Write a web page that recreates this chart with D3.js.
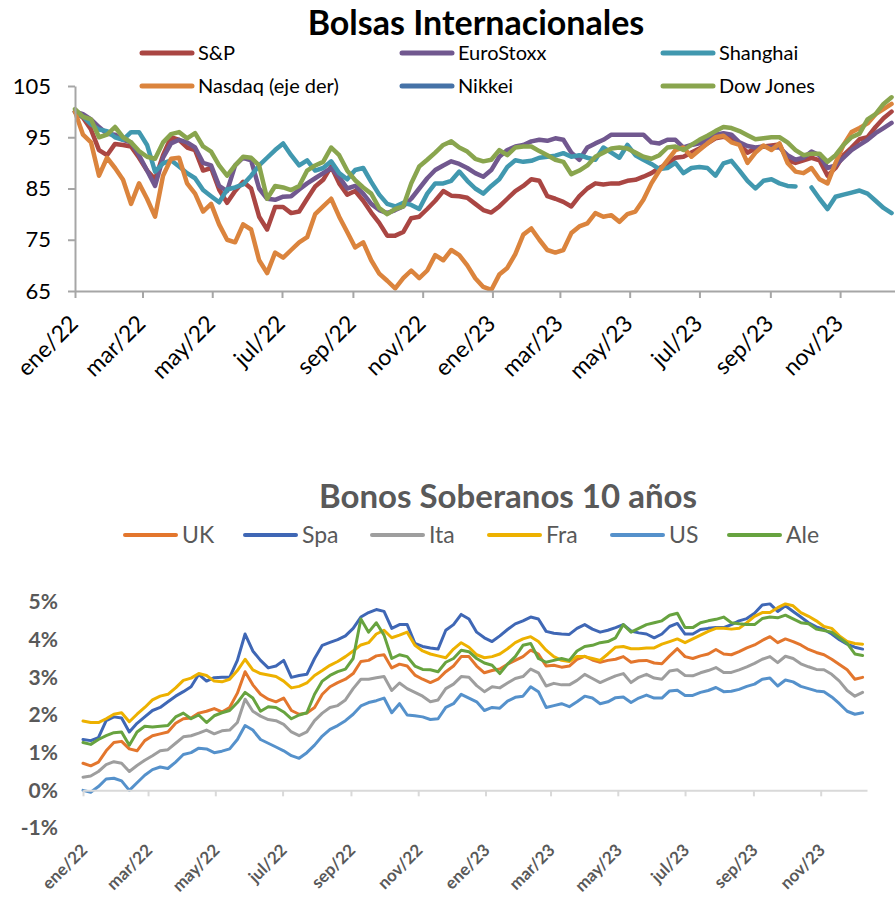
<!DOCTYPE html>
<html>
<head>
<meta charset="utf-8">
<script src="https://cdn.jsdelivr.net/npm/d3@7"></script>
<style>
  body { margin: 0; background: #fff; }
  svg { display: block; font-family: Lato, "Open Sans", sans-serif; }
</style>
</head>
<body>
<div id="chart"></div>
<script>
// Etiquetas de meses para el eje x
const meses = ['ene', 'feb', 'mar', 'abr', 'may', 'jun', 'jul', 'ago', 'sep', 'oct', 'nov', 'dic'];

// ---- Bolsas Internacionales (indice, datos semanales desde ene/22) ----
const bolsasSeries = ['S&P', 'EuroStoxx', 'Shanghai', 'Nasdaq (eje der)', 'Nikkei', 'Dow Jones'];
const bolsasColores = ['#AA4643', '#71588F', '#4198AF', '#DB843D', '#4572A7', '#89A54E'];
const bolsasTicks = [65, 75, 85, 95, 105];

const sp = [100, 98.8, 96.5, 92.5, 91.5, 93.7, 93.5, 93.2, 91, 88.5,
  86.8, 91.5, 95, 94.5, 93, 92.5, 88.5, 89, 84.8, 82.2,
  84.5, 86.3, 85, 79.5, 77, 81.4, 81.4, 80.2, 80.5, 83,
  85.4, 86.7, 89.3, 86, 83.8, 84.5, 82.6, 80.3, 78.3, 75.8,
  75.8, 76.5, 79.2, 79.5, 81, 82.6, 84.5, 83.6, 83.5, 83.2,
  82, 80.8, 80.3, 81.5, 83, 84.5, 85.5, 86.8, 86.5, 83.5,
  83, 82.4, 81.5, 83.5, 85, 86, 85.8, 86, 86, 86.5,
  86.7, 87.3, 88, 89, 89.8, 91, 91.2, 92, 92.8, 93.8,
  94.8, 95.1, 94.8, 93.6, 92, 92.8, 93.2, 93.4, 93.6, 90.5,
  90, 90.5, 91, 90.5, 87.5, 89, 91.5, 93, 94.6, 95,
  97, 98.7, 100];

const euroStoxx = [100, 99.5, 98.5, 97, 95.7, 95.5, 94.5, 94, 91.5, 88.5,
  85.5, 91, 93.8, 94.5, 94, 93, 90, 89.5, 85.5, 84.5,
  89.5, 91, 90.5, 85, 83, 82.8, 83.4, 83.5, 84.8, 86,
  87, 88, 89, 87.3, 85, 85.5, 84, 82, 80.8, 80.2,
  80.8, 81.5, 83, 85, 87, 88.6, 89.5, 90.3, 89.8, 89,
  88, 87.3, 88.6, 91.2, 92.5, 93.2, 93.5, 94.2, 94.5, 94.3,
  94.8, 94.5, 92, 90.6, 93, 93.8, 94.5, 95.5, 95.5, 95.5,
  95.5, 95.5, 94, 93.8, 94.5, 94.5, 93, 93.5, 93.8, 94.6,
  95.5, 95.8, 95.5, 94, 93.3, 93, 93.2, 93, 93, 91.5,
  90.6, 91, 92.2, 91.5, 89, 89.5, 91, 92.5, 93.5, 94.5,
  95.8, 96.8, 97.8];

const shanghai = [100, 99, 97.5, 96.5, 96.2, 95, 94.5, 96, 96, 93.5,
  88.3, 89.9, 90.5, 89.3, 88, 87, 84.7, 83.5, 82.3, 84.8,
  85.2, 85.8, 87.5, 89.5, 91, 92.5, 93.8, 91.5, 89.5, 90.5,
  88.5, 89, 90.3, 88, 86.8, 88.6, 89, 86.3, 83.8, 82,
  81.5, 82.2, 81.8, 81, 84, 86, 86, 86.5, 88.3, 86.5,
  85, 84, 85.5, 86.8, 89.2, 90.5, 90.2, 90.4, 91, 91.2,
  91.4, 91.9, 91.2, 91.5, 91, 90.6, 93, 92, 91, 93.5,
  91.5, 90.6, 89.8, 88.8, 89, 90, 88, 89, 89.2, 89,
  87.5, 89.9, 90.4, 88.5, 86.5, 85, 86.5, 86.8, 86, 85.5,
  85.4, null, 85.2, 83, 81, 83.4, 83.8, 84.2, 84.6, 84,
  82.6, 81.2, 80.2];

const nasdaq = [100, 95.5, 94, 87.5, 91, 89, 86.7, 82, 86, 83,
  79.5, 87.5, 90.8, 91, 86, 84, 80.5, 82, 78, 75,
  74.5, 78, 77, 71, 68.5, 72.5, 71.5, 73, 74.5, 75.5,
  80, 81.5, 83, 79.5, 76.5, 73.5, 74.5, 71, 68.4, 67,
  65.5, 67.5, 69, 67.5, 69, 72, 71, 73, 72, 70,
  67.5, 65.8, 65.2, 68.2, 69.5, 72.2, 76, 77.2, 75, 73,
  72.5, 73, 76.3, 77.6, 78.2, 80.2, 79.5, 79.8, 78.5, 80,
  80.5, 82.8, 86, 88.5, 90.5, 92.5, 93, 91.2, 92.5, 93.8,
  95, 95.3, 94, 93.5, 90, 92, 93.4, 92.5, 93.8, 90,
  88.3, 88, 89, 86.8, 86, 90, 93.5, 96, 96.8, 97.7,
  99.5, 100.5, 101.5];

const nikkei = [];

const dowJones = [100.5, 99, 98.5, 95, 95.5, 97, 95, 94, 92.3, 91.2,
  90.8, 94, 95.6, 96, 94.8, 95.8, 93.2, 92.2, 89.5, 87.5,
  89.5, 91.2, 91, 89.5, 83, 85.5, 85.2, 84.7, 85.5, 88.5,
  89.5, 90.2, 93, 91.5, 88.5, 86.6, 85.2, 84, 81.2, 80,
  81, 81.5, 86, 89.3, 90.6, 92, 93.5, 94.2, 93, 92.2,
  90.8, 90.3, 90.6, 92.5, 91.5, 93, 93.2, 93.2, 92.3, 91.5,
  90.6, 90.2, 87.8, 88.5, 89.5, 91.2, 92, 92.8, 93, 92.8,
  92, 91.2, 90.8, 91.5, 93, 93.2, 92.5, 93.5, 94.5, 95.3,
  96.2, 97, 96.8, 96.2, 95.4, 94.6, 94.8, 95, 95, 94,
  92.5, 91.5, 91.8, 91.8, 90.2, 91.5, 93.5, 95, 95.7, 98.5,
  99.5, 101.5, 102.8];

// ---- Bonos Soberanos 10 años (%, datos semanales desde ene/22) ----
const bonosSeries = ['UK', 'Spa', 'Ita', 'Fra', 'US', 'Ale'];
const bonosColores = ['#E3762D', '#3F67B5', '#9E9E9E', '#EDB100', '#5591CB', '#67A33F'];
const bonosTicks = [-1, 0, 1, 2, 3, 4, 5];

const uk = [0.72, 0.65, 0.75, 1.05, 1.27, 1.3, 1.1, 1.05, 1.32, 1.45,
  1.5, 1.55, 1.78, 1.9, 1.92, 2.05, 2.1, 2.17, 2.08, 2.2,
  2.58, 3.15, 2.8, 2.55, 2.42, 2.35, 2.45, 2.12, 2.02, 2.05,
  2.2, 2.55, 2.75, 2.86, 2.95, 3.1, 3.42, 3.45, 3.57, 3.6,
  3.25, 3.35, 3.3, 3.06, 2.95, 2.86, 2.95, 3.15, 3.3, 3.55,
  3.55, 3.3, 3.12, 3.18, 3.22, 3.35, 3.45, 3.55, 3.72, 3.62,
  3.3, 3.32, 3.27, 3.3, 3.48, 3.56, 3.46, 3.4, 3.45, 3.48,
  3.55, 3.4, 3.44, 3.45, 3.38, 3.36, 3.57, 3.76, 3.55, 3.5,
  3.57, 3.62, 3.74, 3.62, 3.6, 3.68, 3.78, 3.86, 3.98, 4.08,
  3.92, 4.02, 3.95, 3.86, 3.74, 3.66, 3.6, 3.48, 3.34, 3.2,
  2.95, 3.0];

const spa = [1.35, 1.32, 1.4, 1.85, 1.95, 1.92, 1.55, 1.78, 1.95, 2.12,
  2.2, 2.35, 2.5, 2.62, 2.75, 3.08, 2.9, 2.99, 3.0, 3.0,
  3.45, 4.15, 3.7, 3.45, 3.25, 3.3, 3.45, 3.0, 3.05, 3.08,
  3.5, 3.85, 3.93, 4.0, 4.1, 4.3, 4.6, 4.72, 4.8, 4.75,
  4.3, 4.4, 4.4, 3.9, 3.82, 3.78, 3.75, 4.25, 4.4, 4.67,
  4.55, 4.2, 4.05, 3.95, 4.1, 4.27, 4.42, 4.5, 4.6, 4.55,
  4.22, 4.17, 4.15, 4.14, 4.3, 4.4, 4.28, 4.2, 4.25, 4.32,
  4.4, 4.23, 4.18, 4.15, 4.05, 4.15, 4.35, 4.43, 4.15, 4.15,
  4.27, 4.3, 4.32, 4.32, 4.4, 4.5, 4.56, 4.7, 4.92, 4.95,
  4.75, 4.9, 4.75, 4.6, 4.45, 4.34, 4.27, 4.15, 4.0, 3.88,
  3.8, 3.75];

const ita = [0.35, 0.38, 0.5, 0.68, 0.76, 0.72, 0.5, 0.66, 0.8, 0.92,
  1.05, 1.08, 1.25, 1.42, 1.45, 1.52, 1.6, 1.5, 1.58, 1.6,
  1.8, 2.42, 2.1, 1.97, 1.88, 1.85, 1.75, 1.55, 1.45, 1.55,
  1.85, 2.05, 2.2, 2.25, 2.4, 2.7, 2.95, 2.95, 2.99, 3.02,
  2.65, 2.85, 2.7, 2.6, 2.5, 2.35, 2.4, 2.7, 2.82, 3.02,
  3.0, 2.78, 2.62, 2.75, 2.72, 2.85, 2.97, 3.02, 3.22, 3.12,
  2.77, 2.84, 2.8, 2.8, 2.92, 3.08, 2.97, 2.86, 2.95, 3.04,
  3.1, 2.86, 3.0, 3.08, 2.98, 2.95, 3.17, 3.2, 3.05, 3.04,
  3.12, 3.18, 3.26, 3.13, 3.13, 3.2, 3.28, 3.37, 3.48, 3.55,
  3.39, 3.56, 3.5, 3.36, 3.28, 3.21, 3.2, 3.08, 2.9, 2.65,
  2.5, 2.6];

const fra = [1.84, 1.8, 1.8, 1.9, 2.02, 2.06, 1.82, 2.02, 2.2, 2.4,
  2.5, 2.55, 2.72, 2.92, 2.98, 3.1, 3.05, 2.9, 2.88, 2.95,
  3.18, 3.48, 3.2, 3.1, 3.06, 3.02, 2.9, 2.72, 2.76, 2.85,
  3.05, 3.18, 3.32, 3.42, 3.55, 3.7, 3.86, 3.92, 4.15, 4.25,
  4.05, 4.12, 4.2, 3.85, 3.7, 3.62, 3.57, 3.52, 3.75, 3.92,
  3.8, 3.6, 3.52, 3.55, 3.62, 3.76, 3.92, 4.02, 4.08, 3.95,
  3.72, 3.55, 3.45, 3.42, 3.55, 3.55, 3.5, 3.45, 3.62, 3.8,
  3.82, 3.76, 3.76, 3.78, 3.78, 3.88, 3.95, 4.02, 3.92, 4.02,
  4.12, 4.22, 4.3, 4.3, 4.28, 4.3, 4.45, 4.62, 4.72, 4.72,
  4.85, 4.95, 4.9, 4.72, 4.62, 4.5, 4.35, 4.3, 4.1, 3.95,
  3.9, 3.88];

const us = [0.0, -0.05, 0.1, 0.3, 0.32, 0.25, 0.0, 0.2, 0.4, 0.55,
  0.62, 0.58, 0.75, 0.95, 1.0, 1.12, 1.1, 1.0, 1.04, 1.1,
  1.35, 1.72, 1.6, 1.35, 1.25, 1.15, 1.05, 0.92, 0.85, 1.0,
  1.2, 1.44, 1.62, 1.72, 1.85, 2.02, 2.24, 2.33, 2.38, 2.45,
  2.06, 2.3, 2.0, 1.98, 1.95, 1.88, 1.9, 2.2, 2.3, 2.55,
  2.45, 2.35, 2.12, 2.2, 2.18, 2.37, 2.47, 2.5, 2.75, 2.62,
  2.2, 2.25, 2.3, 2.22, 2.35, 2.5, 2.45, 2.3, 2.35, 2.46,
  2.48, 2.33, 2.45, 2.53, 2.45, 2.45, 2.64, 2.66, 2.52, 2.52,
  2.6, 2.65, 2.73, 2.62, 2.63, 2.68, 2.76, 2.82, 2.95, 2.98,
  2.77, 2.93, 2.88, 2.76, 2.7, 2.64, 2.62, 2.48, 2.3, 2.1,
  2.02, 2.06];

const ale = [1.27, 1.22, 1.35, 1.45, 1.53, 1.55, 1.2, 1.55, 1.7, 1.68,
  1.7, 1.72, 1.95, 2.05, 1.9, 2.0, 1.8, 1.98, 2.06, 2.12,
  2.33, 2.6, 2.45, 2.1, 2.22, 2.2, 2.08, 1.9, 2.0, 2.06,
  2.55, 2.9, 3.05, 3.15, 3.22, 3.5, 4.55, 4.2, 4.45, 4.12,
  3.5, 3.6, 3.55, 3.3, 3.21, 3.2, 3.15, 3.4, 3.5, 3.72,
  3.68, 3.5, 3.38, 3.32, 3.1, 3.35, 3.55, 3.85, 3.9, 3.5,
  3.4, 3.45, 3.5, 3.45, 3.7, 3.82, 3.85, 3.92, 3.95, 4.05,
  4.4, 4.2, 4.3, 4.4, 4.45, 4.5, 4.65, 4.7, 4.32, 4.32,
  4.45, 4.5, 4.54, 4.6, 4.45, 4.42, 4.4, 4.4, 4.56, 4.6,
  4.58, 4.65, 4.55, 4.45, 4.42, 4.28, 4.24, 4.2, 4.05, 3.9,
  3.62, 3.58];

const inicio = new Date(2022, 0, 1);
const fmtMes = d => meses[d.getMonth()] + '/' + String(d.getFullYear()).slice(2);

class WeeklyLineChart {

  constructor(_config, series) {
    this.config = {
      svg: _config.svg,
      xRange: _config.xRange,
      xEnd: _config.xEnd,
      yDomain: _config.yDomain,
      yRange: _config.yRange,
      lineWidth: _config.lineWidth
    };
    this.series = series;
    this.initVis();
  }

  initVis() {
    let vis = this;
    vis.xScale = d3.scaleTime()
      .domain([inicio, vis.config.xEnd])
      .range(vis.config.xRange);
    vis.yScale = d3.scaleLinear()
      .domain(vis.config.yDomain)
      .range(vis.config.yRange);
    vis.chart = vis.config.svg.append('g');
  }

  renderLines() {
    let vis = this;
    const line = d3.line()
      .defined(d => d.v != null)
      .x(d => vis.xScale(d.date))
      .y(d => vis.yScale(d.v));

    vis.chart.selectAll('.serie')
      .data(vis.series.filter(s => s.values.length))
      .join('path')
      .attr('class', 'serie')
      .attr('fill', 'none')
      .attr('stroke', d => d.color)
      .attr('stroke-width', vis.config.lineWidth)
      .attr('stroke-linejoin', 'round')
      .attr('stroke-linecap', 'round')
      .attr('d', d => line(d.values.map((v, i) => ({ date: d3.timeDay.offset(inicio, 7 * i), v: v }))));
  }
}

const svg = d3.select('#chart').append('svg')
  .attr('width', 895)
  .attr('height', 903);

// ================= Bolsas Internacionales =================
const bolsasValores = [sp, euroStoxx, shanghai, nasdaq, nikkei, dowJones];
const bolsas = new WeeklyLineChart({
  svg: svg,
  xRange: [75, 895],
  xEnd: new Date(2023, 11, 19),
  yDomain: [65, 105],
  yRange: [291, 86],
  lineWidth: 4.5
}, bolsasSeries.map((name, i) => ({ name: name, color: bolsasColores[i], values: bolsasValores[i] })));

svg.append('text')
  .attr('x', 476)
  .attr('y', 35)
  .attr('text-anchor', 'middle')
  .style('font-size', '34px')
  .style('font-weight', 'bold')
  .attr('fill', '#000')
  .text('Bolsas Internacionales');

// legend: three columns, two rows
const legB = svg.append('g');
const legBx = [142, 402, 663];
const legBy = [53, 86];
bolsasSeries.forEach((name, i) => {
  const x0 = legBx[i % 3], y0 = legBy[Math.floor(i / 3)];
  legB.append('line')
    .attr('x1', x0).attr('x2', x0 + 50)
    .attr('y1', y0).attr('y2', y0)
    .attr('stroke', bolsasColores[i])
    .attr('stroke-width', 5)
    .attr('stroke-linecap', 'round');
  legB.append('text')
    .attr('x', x0 + 56)
    .attr('y', y0)
    .attr('dy', '0.35em')
    .style('font-size', '20px')
    .attr('fill', '#000')
    .text(name);
});

const yAxisB = svg.append('g')
  .attr('transform', 'translate(75,0)')
  .call(d3.axisLeft(bolsas.yScale).tickValues(bolsasTicks).tickSizeInner(7).tickSizeOuter(0).tickPadding(17));
yAxisB.attr('font-family', null).attr('font-size', null);
yAxisB.select('.domain').attr('stroke', '#a6a6a6').attr('stroke-width', 2);
yAxisB.selectAll('.tick line').attr('stroke', '#a6a6a6').attr('stroke-width', 2);
yAxisB.selectAll('.tick text').style('font-size', '22px').attr('fill', '#000');

const xAxisB = svg.append('g')
  .attr('transform', 'translate(0,291)')
  .call(d3.axisBottom(bolsas.xScale).ticks(d3.timeMonth.every(2)).tickFormat(fmtMes).tickSizeInner(7).tickSizeOuter(0));
xAxisB.attr('font-family', null).attr('font-size', null);
xAxisB.select('.domain').attr('stroke', '#a6a6a6').attr('stroke-width', 2);
xAxisB.selectAll('.tick line').attr('stroke', '#a6a6a6').attr('stroke-width', 2);
xAxisB.selectAll('.tick text')
  .attr('y', null).attr('dy', null)
  .attr('text-anchor', 'end')
  .attr('transform', 'translate(4,34) rotate(-45)')
  .style('font-size', '23px')
  .attr('fill', '#000');

bolsas.renderLines();

// ================= Bonos Soberanos 10 años =================
const bonosValores = [uk, spa, ita, fra, us, ale];
const bonos = new WeeklyLineChart({
  svg: svg,
  xRange: [83, 867],
  xEnd: new Date(2023, 11, 13),
  yDomain: [-1, 5],
  yRange: [828, 602],
  lineWidth: 3
}, bonosSeries.map((name, i) => ({ name: name, color: bonosColores[i], values: bonosValores[i] })));

svg.append('text')
  .attr('x', 508)
  .attr('y', 508)
  .attr('text-anchor', 'middle')
  .style('font-size', '33px')
  .style('font-weight', 'bold')
  .attr('fill', '#595959')
  .text('Bonos Soberanos 10 años');

const legS = svg.append('g');
const legSx = [125, 245, 372, 489, 612, 729];
bonosSeries.forEach((name, i) => {
  legS.append('line')
    .attr('x1', legSx[i]).attr('x2', legSx[i] + 51)
    .attr('y1', 535).attr('y2', 535)
    .attr('stroke', bonosColores[i])
    .attr('stroke-width', 4)
    .attr('stroke-linecap', 'round');
  legS.append('text')
    .attr('x', legSx[i] + 57)
    .attr('y', 535)
    .attr('dy', '0.35em')
    .style('font-size', '23px')
    .attr('fill', '#595959')
    .text(name);
});

const yAxisS = svg.append('g')
  .attr('transform', 'translate(83,0)')
  .call(d3.axisLeft(bonos.yScale).tickValues(bonosTicks).tickFormat(d => d + '%').tickSize(0).tickPadding(25));
yAxisS.attr('font-family', null).attr('font-size', null);
yAxisS.select('.domain').remove();
yAxisS.selectAll('.tick text')
  .style('font-size', '21px')
  .style('font-weight', 'bold')
  .attr('fill', '#595959');

const xAxisS = svg.append('g')
  .attr('transform', `translate(0,${bonos.yScale(0)})`)
  .call(d3.axisBottom(bonos.xScale).ticks(d3.timeMonth.every(2)).tickFormat(fmtMes).tickSizeInner(6).tickSizeOuter(0));
xAxisS.attr('font-family', null).attr('font-size', null);
xAxisS.select('.domain').attr('stroke', '#d9d9d9').attr('stroke-width', 2);
xAxisS.selectAll('.tick line').attr('stroke', '#d9d9d9').attr('stroke-width', 2);
xAxisS.selectAll('.tick text')
  .attr('y', null).attr('dy', null)
  .attr('text-anchor', 'end')
  .attr('transform', 'translate(5,61) rotate(-45)')
  .style('font-size', '17px')
  .style('font-weight', 'bold')
  .attr('fill', '#595959');

bonos.renderLines();
</script>
</body>
</html>
